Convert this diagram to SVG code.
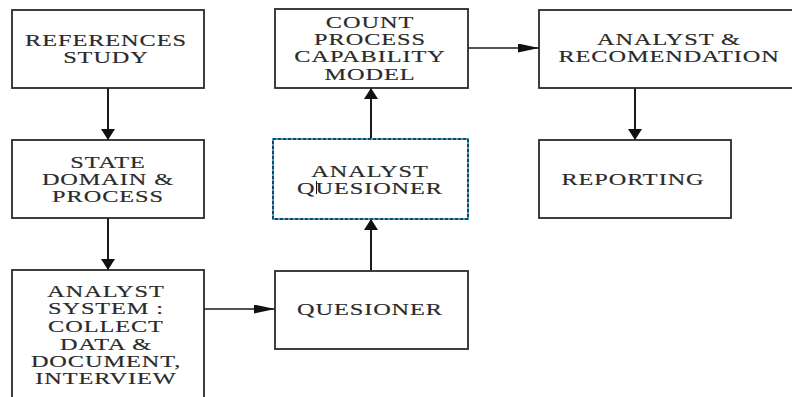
<svg xmlns="http://www.w3.org/2000/svg" width="792" height="397" viewBox="0 0 792 397">
<style>
.box{fill:#ffffff;stroke:#2a2a2a;stroke-width:1.8}
.lbl{font-family:"Liberation Serif","Times New Roman",serif;font-size:16px;fill:#2a2a2a;stroke:#2a2a2a;stroke-width:0.15;text-anchor:middle;letter-spacing:0.6px}
.con{fill:none;stroke:#1a1a1a;stroke-width:2}
.conh{fill:none;stroke:#1a1a1a;stroke-width:1.5}
</style>
<defs>
<marker id="ahV" markerUnits="userSpaceOnUse" markerWidth="12" markerHeight="16" refX="11" refY="7" orient="auto" viewBox="0 0 12 16">
<path d="M0,0 L11,7 L0,14 Z" fill="#111"/>
</marker>
<marker id="ahH" markerUnits="userSpaceOnUse" markerWidth="22" markerHeight="10" refX="21" refY="4.5" orient="auto" viewBox="0 0 22 10">
<path d="M0,0 L21,4.5 L0,9 Z" fill="#111"/>
</marker>
</defs>
<rect width="792" height="397" fill="#ffffff"/>

<g id="connectors">
<line class="con" x1="108" y1="88" x2="108" y2="140" marker-end="url(#ahV)"/>
<line class="con" x1="108" y1="218" x2="108" y2="270" marker-end="url(#ahV)"/>
<line class="conh" x1="204" y1="309" x2="275" y2="309" marker-end="url(#ahH)"/>
<line class="con" x1="371" y1="271" x2="371" y2="219" marker-end="url(#ahV)"/>
<line class="con" x1="371" y1="139" x2="371" y2="88" marker-end="url(#ahV)"/>
<line class="conh" x1="468" y1="48" x2="539" y2="48" marker-end="url(#ahH)"/>
<line class="con" x1="635" y1="88" x2="635" y2="140" marker-end="url(#ahV)"/>
</g>

<g id="references-study">
<rect class="box" x="12" y="10" width="192" height="78"/>
<text class="lbl" transform="translate(106,0) scale(1.52,1)" y="46">REFERENCES</text>
<text class="lbl" transform="translate(106,0) scale(1.52,1)" y="63">STUDY</text>
</g>

<g id="state-domain-process">
<rect class="box" x="12" y="140" width="192" height="78"/>
<text class="lbl" transform="translate(108,0) scale(1.52,1)" y="168">STATE</text>
<text class="lbl" transform="translate(108,0) scale(1.52,1)" y="185">DOMAIN &amp;</text>
<text class="lbl" transform="translate(108,0) scale(1.52,1)" y="202">PROCESS</text>
</g>

<g id="analyst-system">
<rect class="box" x="12" y="270" width="192" height="140"/>
<text class="lbl" transform="translate(106,0) scale(1.52,1)" y="297">ANALYST</text>
<text class="lbl" transform="translate(106,0) scale(1.52,1)" y="314">SYSTEM :</text>
<text class="lbl" transform="translate(106,0) scale(1.52,1)" y="332">COLLECT</text>
<text class="lbl" transform="translate(106,0) scale(1.52,1)" y="350">DATA &amp;</text>
<text class="lbl" transform="translate(106,0) scale(1.52,1)" y="367">DOCUMENT,</text>
<text class="lbl" transform="translate(106,0) scale(1.52,1)" y="384">INTERVIEW</text>
</g>

<g id="quesioner">
<rect class="box" x="275" y="271" width="193" height="78"/>
<text class="lbl" transform="translate(370,0) scale(1.52,1)" y="315">QUESIONER</text>
</g>

<g id="analyst-quesioner">
<rect x="273" y="139" width="195" height="80" fill="#ffffff" stroke="#35a8e0" stroke-width="2"/>
<rect x="273" y="139" width="195" height="80" fill="none" stroke="#222" stroke-width="1.5" stroke-dasharray="3,2"/>
<text class="lbl" transform="translate(370,0) scale(1.52,1)" y="177">ANALYST</text>
<text class="lbl" transform="translate(370,0) scale(1.52,1)" y="194">QUESIONER</text>
<line x1="316.5" y1="181" x2="316.5" y2="194" stroke="#111" stroke-width="1"/>
</g>

<g id="count-process-capability-model">
<rect class="box" x="275" y="9" width="193" height="79"/>
<text class="lbl" transform="translate(370,0) scale(1.52,1)" y="28">COUNT</text>
<text class="lbl" transform="translate(370,0) scale(1.52,1)" y="45">PROCESS</text>
<text class="lbl" transform="translate(370,0) scale(1.52,1)" y="62">CAPABILITY</text>
<text class="lbl" transform="translate(370,0) scale(1.52,1)" y="80">MODEL</text>
</g>

<g id="analyst-recomendation">
<rect class="box" x="539" y="10" width="270" height="78"/>
<text class="lbl" transform="translate(669,0) scale(1.52,1)" y="45">ANALYST &amp;</text>
<text class="lbl" transform="translate(669,0) scale(1.52,1)" y="62">RECOMENDATION</text>
</g>

<g id="reporting">
<rect class="box" x="539" y="140" width="192" height="78"/>
<text class="lbl" transform="translate(633,0) scale(1.52,1)" y="185">REPORTING</text>
</g>
</svg>
